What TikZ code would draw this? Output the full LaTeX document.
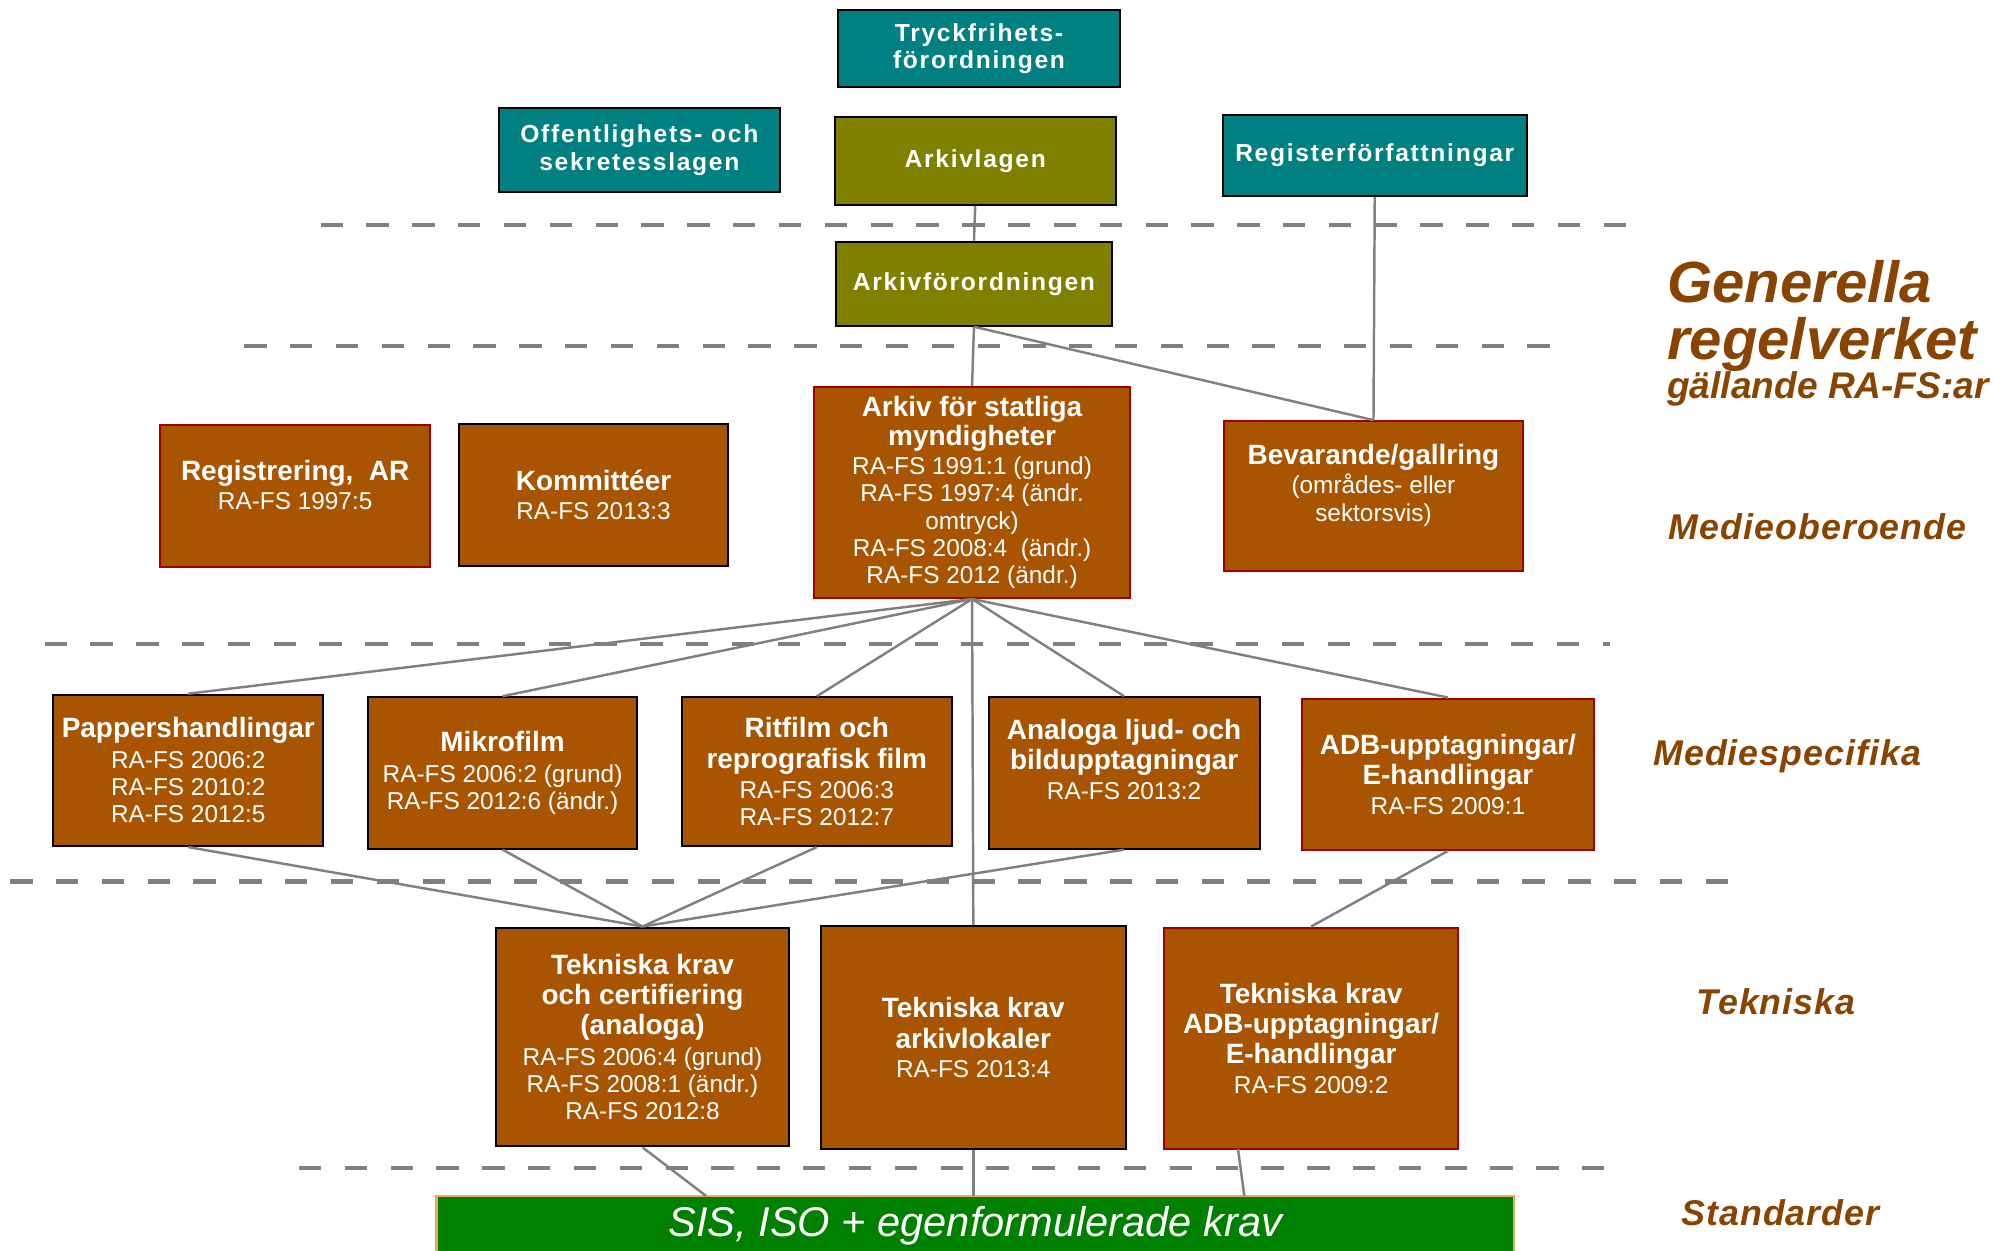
\documentclass[tikz,border=0pt]{standalone}
\usepackage{fontspec}
\setmainfont{Liberation Sans}
\newfontfamily\spacedfont[LetterSpace=7]{Liberation Sans}
\newfontfamily\labelfont[LetterSpace=3]{Liberation Sans}
\definecolor{tealc}{RGB}{0,128,128}
\definecolor{olivec}{RGB}{128,128,0}
\definecolor{brownc}{RGB}{168,84,0}
\definecolor{redc}{RGB}{160,0,0}
\definecolor{greenc}{RGB}{0,128,0}
\definecolor{sisborder}{RGB}{240,170,80}
\definecolor{linkc}{RGB}{128,128,128}
\definecolor{labelc}{RGB}{136,68,0}
\newcommand\boxtitle{\bfseries\fontsize{12.5}{13.5}\selectfont}
\begin{document}
\begin{tikzpicture}[x=0.02cm,y=-0.02cm,
  span/.style n args={4}{at={({(#1+#3)/2},{(#2+#4)/2})},
       minimum width={(#3-#1)*0.02cm}, minimum height={(#4-#2)*0.02cm}},
  box/.style={inner sep=0pt, line width=0.9pt, text=white, align=center,
              font=\fontsize{10.9}{12.2}\selectfont},
  topbox/.style={box, font=\spacedfont\bfseries\fontsize{11}{12.2}\selectfont},
  tealbox/.style={topbox, fill=tealc, draw=black},
  olivebox/.style={topbox, fill=olivec, draw=black},
  brownblack/.style={box, fill=brownc, draw=black},
  brownred/.style={box, fill=brownc, draw=redc},
  sisbox/.style={inner sep=0pt, line width=1pt, fill=greenc, draw=sisborder, text=white,
                 font=\itshape\fontsize{18.6}{20}\selectfont},
  link/.style={draw=linkc, line width=1.1pt},
  sep/.style={draw=linkc, line width=2pt, dash pattern=on 10pt off 10.5pt},
  sidelabel/.style={text=labelc, anchor=base west, inner sep=0pt,
                    font=\labelfont\bfseries\itshape\fontsize{16}{18}\selectfont}]
\useasboundingbox (0,0) rectangle (1568,983);

% separators
\draw[sep] (252,177) -- (1280,177);
\draw[sep] (192,272) -- (1218,272);
\draw[sep] (35,506) -- (1265,506);
\draw[sep] (8,693) -- (1358,693);
\draw[sep] (235,918) -- (1263,918);

% top row
\node[tealbox, span={659}{8}{880}{68}] (tf) {Tryckfrihets-\\förordningen};
\node[tealbox, span={392}{85}{613}{151}] (osl) {Offentlighets- och\\sekretesslagen};
\node[olivebox, span={656}{92}{877}{161}] (al) {Arkivlagen};
\node[tealbox, span={961}{90}{1200}{154}] (rf) {Registerförfattningar};
\node[olivebox, span={657}{190}{874}{256}] (af) {Arkivförordningen};

% medieoberoende
\node[brownred, span={126}{334}{338}{446}] (reg)
  {{\boxtitle Registrering,\ \ AR}\\[1pt]RA-FS 1997:5\\[-2pt]};
\node[brownblack, span={361}{333}{572}{445}] (kom)
  {{\boxtitle Kommittéer}\\[1pt]RA-FS 2013:3};
\node[brownred, span={640}{304}{888}{470}] (as)
  {{\boxtitle Arkiv för statliga}\\[0.8pt]{\boxtitle myndigheter}\\[0.8pt]RA-FS 1991:1 (grund)\\RA-FS 1997:4 (ändr.\\omtryck)\\RA-FS 2008:4\ \ (ändr.)\\RA-FS 2012 (ändr.)};
\node[brownred, span={962}{331}{1197}{449}] (bev)
  {{\boxtitle Bevarande/gallring}\\[1pt](områdes- eller\\sektorsvis)\\\mbox{}};

% mediespecifika
\node[brownblack, span={42}{546}{254}{665}] (pap)
  {{\boxtitle Pappershandlingar}\\[1.4pt]RA-FS 2006:2\\RA-FS 2010:2\\RA-FS 2012:5};
\node[brownblack, span={289}{548}{501}{667}] (mik)
  {{\boxtitle Mikrofilm}\\[1.4pt]RA-FS 2006:2 (grund)\\RA-FS 2012:6 (ändr.)};
\node[brownblack, span={536}{548}{748}{665}] (rit)
  {{\boxtitle Ritfilm och}\\[1.4pt]{\boxtitle reprografisk film}\\[1.4pt]RA-FS 2006:3\\RA-FS 2012:7};
\node[brownblack, span={777}{548}{990}{667}] (ana)
  {{\boxtitle Analoga ljud- och}\\[1.4pt]{\boxtitle bildupptagningar}\\[1pt]RA-FS 2013:2\\\mbox{}};
\node[brownred, span={1023}{549}{1253}{668}] (adb)
  {{\boxtitle ADB-upptagningar/}\\[1.4pt]{\boxtitle E-handlingar}\\[1pt]RA-FS 2009:1};

% tekniska
\node[brownblack, span={390}{729}{620}{901}] (tc)
  {{\boxtitle Tekniska krav}\\[1.4pt]{\boxtitle och certifiering}\\[1.4pt]{\boxtitle (analoga)}\\[1.4pt]RA-FS 2006:4 (grund)\\RA-FS 2008:1 (ändr.)\\RA-FS 2012:8};
\node[brownblack, span={645}{728}{885}{903}] (tl)
  {{\boxtitle Tekniska krav}\\[1.4pt]{\boxtitle arkivlokaler}\\[1pt]RA-FS 2013:4};
\node[brownred, span={915}{729}{1146}{903}] (tadb)
  {{\boxtitle Tekniska krav}\\[1.4pt]{\boxtitle ADB-upptagningar/}\\[1.4pt]{\boxtitle E-handlingar}\\[1pt]RA-FS 2009:2};

% standards
\node[sisbox, span={343}{940}{1190}{986}] (sis) {SIS, ISO + egenformulerade krav};

% side labels
\node[text=labelc, anchor=base west, inner sep=0pt, align=left,
      font=\bfseries\itshape\fontsize{26}{25.5}\selectfont] (gen) at (1310,313)
  {Generella\\regelverket\\[-8.2pt]{\fontsize{16.6}{18}\selectfont gällande RA-FS:ar}};
\node[sidelabel] (lmo) at (1311,424) {Medieoberoende};
\node[sidelabel] (lms) at (1299,602) {Mediespecifika};
\node[sidelabel] (ltk) at (1333,797) {Tekniska};
\node[sidelabel] (lst) at (1321,963) {Standarder};

% connector end points
\coordinate (sisA) at (555,940);
\coordinate (sisB) at (765,940);
\coordinate (sisC) at (978,940);
\coordinate (tadbOut) at (973,903);

% connectors
\draw[link] (al.south) -- (af.north);
\draw[link] (af.south) -- (as.north);
\draw[link] (af.south) -- (bev.north);
\draw[link] (rf.south) -- (bev.north);
\foreach \t in {pap,mik,rit,ana,adb,tl} \draw[link] (as.south) -- (\t.north);
\foreach \s in {pap,mik,rit,ana} \draw[link] (\s.south) -- (tc.north);
\draw[link] (adb.south) -- (tadb.north);
\draw[link] (tc.south) -- (sisA);
\draw[link] (tl.south) -- (sisB);
\draw[link] (tadbOut) -- (sisC);
\end{tikzpicture}
\end{document}
